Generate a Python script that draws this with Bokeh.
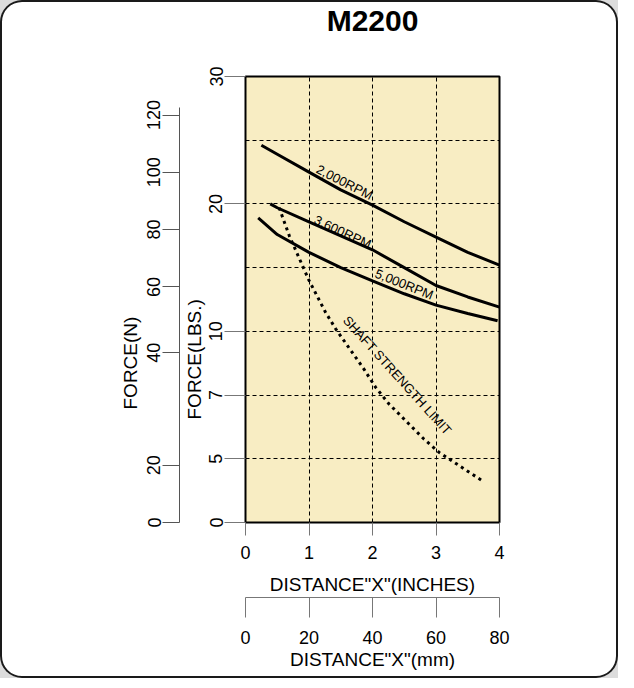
import numpy as np
from bokeh.plotting import figure
from bokeh.models import LinearAxis, FixedTicker, Range1d, Label, Title
from bokeh.layouts import column
from bokeh.embed import file_html
from bokeh.resources import INLINE

FONT = "Liberation Sans"

# ---------------- axis scales ----------------
x_inch_ticks = [0, 1, 2, 3, 4]
x_mm_ticks = [0, 20, 40, 60, 80]
lbs_ticks = [0, 5, 7, 10, 20, 30]
lbs_grid = [5, 7, 10, 15, 20, 25]
newton_ticks = [0, 20, 40, 60, 80, 100, 120]
# the FORCE(LBS.) scale of the chart is evenly spaced per grid line, not linear
lbs_scale_values = [0, 5, 7, 10, 20, 30]
lbs_scale_steps = [0, 1, 2, 3, 5, 7]
LBS_PER_NEWTON = 1 / 4.448

# ---------------- series (distance in inches, force in lbs) ----------------
rpm2000_in = [0.25, 0.5, 1.0, 1.5, 2.0, 2.5, 3.0, 3.5, 4.0]
rpm2000_lbs = [24.6, 23.9, 22.5, 21.1, 19.9, 18.6, 17.4, 16.2, 15.2]

rpm3600_in = [0.39, 0.5, 1.0, 1.5, 2.0, 2.5, 3.0, 3.5, 4.0]
rpm3600_lbs = [20.0, 19.7, 18.6, 17.5, 16.4, 15.0, 13.6, 12.7, 11.9]

rpm5000_in = [0.2, 0.5, 1.0, 1.5, 2.0, 2.5, 3.0, 3.5, 3.97]
rpm5000_lbs = [18.9, 17.6, 16.2, 15.0, 13.96, 12.95, 12.06, 11.4, 10.83]

shaft_in = [0.53, 0.69, 0.92, 1.0, 1.26, 1.42, 1.87, 2.05, 2.26, 2.81, 3.05, 3.29, 3.73]
shaft_lbs = [19.7, 17.5, 14.9, 14.0, 11.5, 10.2, 8.2, 7.36, 6.72, 5.62, 5.2, 4.71, 3.27]

curve_labels = ["2,000RPM", "3,600RPM", "5,000RPM", "SHAFT STRENGTH LIMIT"]
curve_label_in = [1.56, 1.53, 2.50, 2.39]
curve_label_lbs = [21.7, 17.8, 13.7, 7.93]
curve_label_angle = [-27, -25, -22, -48]


def to_step(lbs):
    return np.round(np.interp(lbs, lbs_scale_values, lbs_scale_steps), 6)


lbs_tick_steps = [float(s) for s in to_step(lbs_ticks)]
newton_steps = [float(s) for s in to_step(np.array(newton_ticks) * LBS_PER_NEWTON)]
grid_steps = [float(s) for s in to_step(lbs_grid)]

p = figure(frame_width=254, frame_height=446,
           x_range=Range1d(x_inch_ticks[0], x_inch_ticks[-1]),
           y_range=Range1d(0, float(to_step(lbs_ticks[-1]))),
           output_backend="svg", toolbar_location=None, title_location=None,
           min_border_left=245, min_border_right=119,
           min_border_top=76, min_border_bottom=156,
           background_fill_color="#f8edc3", border_fill_color=None,
           outline_line_color="black", outline_line_width=2)

p.styles = {"background-color": "white", "border-radius": "22px",
            "box-shadow": "inset 0 0 0 2px #1a1a1a", "overflow": "hidden"}

xa = p.below[0]
ya = p.left[0]

# empty spacer band above the frame (one invisible tick), then the title
spacer = LinearAxis(ticker=FixedTicker(ticks=[x_inch_ticks[0]]), axis_line_color=None,
                    major_tick_out=39, major_tick_in=0, major_label_standoff=0,
                    minor_tick_line_color=None, major_tick_line_color=None,
                    major_label_overrides={x_inch_ticks[0]: ""})
p.add_layout(spacer, "above")
p.add_layout(Title(text="M2200", align="center", text_font=FONT, text_font_size="30px",
                   text_font_style="bold", text_color="black", standoff=2), "above")

# grid
p.xgrid.ticker = FixedTicker(ticks=x_inch_ticks[1:-1])
p.ygrid.ticker = FixedTicker(ticks=grid_steps)
p.grid.grid_line_color = "black"
p.grid.grid_line_dash = "4 3"
p.grid.grid_line_width = 1
p.grid.grid_line_alpha = 1


def style_axis(ax, tick_out):
    ax.major_tick_out = tick_out
    ax.major_tick_in = 0
    ax.minor_tick_line_color = None
    ax.major_tick_line_color = "#777777"
    ax.major_label_text_font = FONT
    ax.major_label_text_font_size = "18px"
    ax.major_label_text_color = "black"
    ax.axis_label_text_font = FONT
    ax.axis_label_text_font_size = "19px"
    ax.axis_label_text_font_style = "normal"
    ax.axis_label_text_color = "black"


# bottom: inches
xa.ticker = FixedTicker(ticks=x_inch_ticks)
xa.axis_label = 'DISTANCE"X"(INCHES)'
style_axis(xa, 13)
xa.axis_line_color = None
xa.major_label_standoff = 10
xa.axis_label_standoff = 12

# bottom: mm
p.extra_x_ranges = {"mm": Range1d(x_mm_ticks[0], x_mm_ticks[-1])}
mm_axis = LinearAxis(x_range_name="mm", ticker=FixedTicker(ticks=x_mm_ticks),
                     axis_label='DISTANCE"X"(mm)')
style_axis(mm_axis, 20)
mm_axis.axis_line_color = "#777777"
mm_axis.major_label_standoff = 13
mm_axis.axis_label_standoff = 2
p.add_layout(mm_axis, "below")

# left: lbs
ya.ticker = FixedTicker(ticks=lbs_tick_steps)
ya.major_label_overrides = {s: str(v) for s, v in zip(lbs_tick_steps, lbs_ticks)}
style_axis(ya, 21)
ya.axis_line_color = None
ya.major_label_orientation = "vertical"
ya.major_label_standoff = 2
p.add_layout(Title(text="FORCE(LBS.)", align="left", offset=103, standoff=4,
                   text_font=FONT, text_font_size="19px", text_font_style="normal",
                   text_color="black"), "left")

# left: newtons
n_axis = LinearAxis(ticker=FixedTicker(ticks=newton_steps),
                    bounds=(0, newton_steps[-1] + 0.12))
n_axis.major_label_overrides = {s: str(v) for s, v in zip(newton_steps, newton_ticks)}
style_axis(n_axis, 17)
n_axis.axis_line_color = "#555555"
n_axis.major_tick_line_color = "#555555"
n_axis.major_label_orientation = "vertical"
n_axis.major_label_standoff = 2
p.add_layout(n_axis, "left")
p.add_layout(Title(text="FORCE(N)", align="left", offset=113, standoff=8,
                   text_font=FONT, text_font_size="19px", text_font_style="normal",
                   text_color="black"), "left")

# curves
for xs, ys in [(rpm2000_in, rpm2000_lbs), (rpm3600_in, rpm3600_lbs), (rpm5000_in, rpm5000_lbs)]:
    p.line(xs, to_step(ys), line_color="black", line_width=3)
p.line(shaft_in, to_step(shaft_lbs), line_color="black", line_width=3, line_dash="3 4")

for t, lx, ly, ang in zip(curve_labels, curve_label_in, curve_label_lbs, curve_label_angle):
    p.add_layout(Label(x=lx, y=float(to_step(ly)), text=t, angle=ang, angle_units="deg",
                       text_align="center", text_baseline="middle", text_font=FONT,
                       text_font_size="13px", text_color="black"))

page = column(p, styles={"background-color": "#dcdcdc"})

open("out.html", "w").write(file_html(page, INLINE))
